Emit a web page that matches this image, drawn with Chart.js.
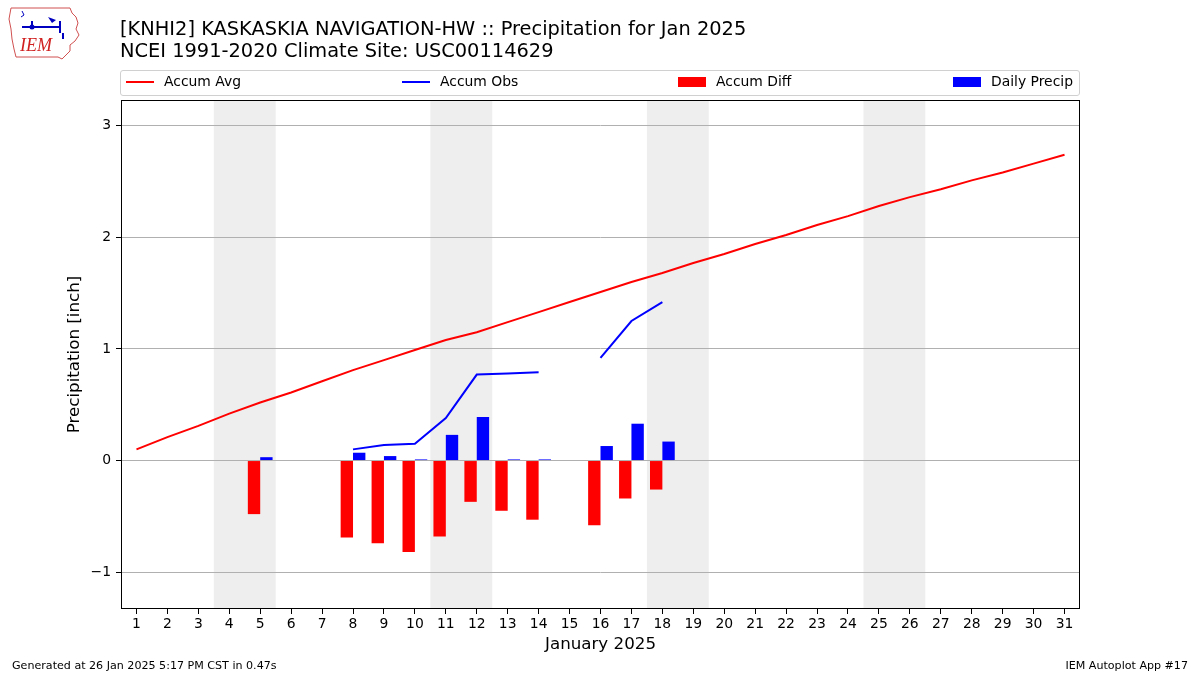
<!DOCTYPE html>
<html>
<head>
<meta charset="utf-8">
<script src="https://cdn.jsdelivr.net/npm/chart.js@4"></script>
<style>
  body { margin: 0; background: #fff; font-family: "DejaVu Sans", sans-serif; }
  #wrap { position: relative; width: 1200px; height: 675px; overflow: hidden; }
  #c { position: absolute; left: 0; top: 0; }
  .title { position: absolute; left: 120px; font-size: 19.4px; color: #000; white-space: nowrap; }
  .legend { position: absolute; left: 120px; top: 70px; width: 958px; height: 24px; border: 1px solid #d0d0d0; border-radius: 3px; }
  .item { position: absolute; top: 2px; font-size: 13.9px; line-height: 17px; white-space: nowrap; }
  .item i { display: inline-block; vertical-align: middle; margin-right: 10px; }
  .foot { position: absolute; top: 659px; font-size: 11.1px; color: #000; white-space: nowrap; }
  #logo { position: absolute; left: 8px; top: 5px; }
</style>
</head>
<body>
<div id="wrap">
  <canvas id="c" width="1200" height="675"></canvas>
  <svg id="logo" width="74" height="56" viewBox="0 0 74 56">
    <path d="M3 3 L62 3 L64 8 L68 12 L70 18 L68 24 L71 30 L67 36 L62 40 L62 46 L58 50 L54 54 L50 52 L8 52 L6 44 L4 34 L3 24 L1 14 Z" fill="none" stroke="#d05050" stroke-width="1"/>
    <path d="M14 22 L52 22 M24 16 L24 22 M52 16 L52 28 M55 28 L55 34" stroke="#0000c0" stroke-width="2" fill="none"/>
    <circle cx="24" cy="22" r="2.5" fill="#0000c0"/>
    <path d="M40 12 L48 15 L44 18 Z" fill="#0000c0"/>
    <path d="M14 6 L16 10 L13 12" stroke="#0000c0" stroke-width="1" fill="none"/>
    <text x="12" y="46" font-family="Liberation Serif, serif" font-style="italic" font-size="18" fill="#d02020">IEM</text>
  </svg>
  <div class="title" style="top:17px">[KNHI2] KASKASKIA NAVIGATION-HW :: Precipitation for Jan 2025</div>
  <div class="title" style="top:39px">NCEI 1991-2020 Climate Site: USC00114629</div>
  <div class="legend">
    <span class="item" style="left:5px"><i style="width:28px;height:2px;background:#ff0000"></i>Accum Avg</span>
    <span class="item" style="left:281px"><i style="width:28px;height:2px;background:#0000ff"></i>Accum Obs</span>
    <span class="item" style="left:557px"><i style="width:28px;height:10px;background:#ff0000"></i>Accum Diff</span>
    <span class="item" style="left:832px"><i style="width:28px;height:10px;background:#0000ff"></i>Daily Precip</span>
  </div>
  <div class="foot" style="left:12px">Generated at 26 Jan 2025 5:17 PM CST in 0.47s</div>
  <div class="foot" style="right:12px">IEM Autoplot App #17</div>
</div>
<script>
// dias de enero 2025
const days = [1,2,3,4,5,6,7,8,9,10,11,12,13,14,15,16,17,18,19,20,21,22,23,24,25,26,27,28,29,30,31];

// precipitacion acumulada promedio (clima 1991-2020)
const accumAvg = [0.10,0.21,0.31,0.42,0.52,0.61,0.71,0.81,0.90,0.99,1.08,1.15,1.24,1.33,1.42,1.51,
                  1.60,1.68,1.77,1.85,1.94,2.02,2.11,2.19,2.28,2.36,2.43,2.51,2.58,2.66,2.74];

// precipitacion acumulada observada
const accumObs = [null,null,null,null,0.03,null,null,0.10,0.14,0.15,0.38,0.77,0.78,0.79,null,0.92,
                  1.25,1.42,null,null,null,null,null,null,null,null,null,null,null,null,null];

// diferencia acumulada (obs - promedio)
const accumDiff = [null,null,null,null,-0.48,null,null,-0.69,-0.74,-0.82,-0.68,-0.37,-0.45,-0.53,null,-0.58,
                   -0.34,-0.26,null,null,null,null,null,null,null,null,null,null,null,null,null];

// precipitacion diaria
const dailyPrecip = [null,null,null,null,0.03,null,null,0.07,0.04,0.01,0.23,0.39,0.01,0.01,null,0.13,
                     0.33,0.17,null,null,null,null,null,null,null,null,null,null,null,null,null];

// primer dia de cada fin de semana
const weekendStarts = [4, 11, 18, 25];

const yTicks = [-1, 0, 1, 2, 3];

// sombreado de fines de semana
const weekendPlugin = {
    id: 'weekends',
    beforeDraw(chart) {
        const { ctx, chartArea, scales } = chart;
        ctx.save();
        ctx.fillStyle = '#eeeeee';
        weekendStarts.forEach(d => {
            const x0 = scales.x.getPixelForValue(d - 0.5);
            const x1 = scales.x.getPixelForValue(d + 1.5);
            ctx.fillRect(x0, chartArea.top, x1 - x0, chartArea.bottom - chartArea.top);
        });
        ctx.restore();
    }
};

// marco negro alrededor del area del grafico
const framePlugin = {
    id: 'frame',
    afterDraw(chart) {
        const { ctx, chartArea } = chart;
        ctx.save();
        ctx.strokeStyle = '#000';
        ctx.lineWidth = 1;
        ctx.strokeRect(Math.round(chartArea.left) + 0.5, Math.round(chartArea.top) + 0.5,
            Math.round(chartArea.right - chartArea.left) - 1, Math.round(chartArea.bottom - chartArea.top) - 1);
        ctx.restore();
    }
};

Chart.defaults.font.family = '"DejaVu Sans", sans-serif';
Chart.defaults.color = '#000';

const chart = new Chart(document.getElementById('c').getContext('2d'), {
    type: 'bar',
    data: {
        labels: days,
        datasets: [
            { type: 'line', label: 'Accum Avg', data: accumAvg, borderColor: '#ff0000', borderWidth: 2,
              pointRadius: 0, spanGaps: false, order: 1 },
            { type: 'line', label: 'Accum Obs', data: accumObs, borderColor: '#0000ff', borderWidth: 2,
              pointRadius: 0, spanGaps: false, order: 0 },
            { label: 'Accum Diff', data: accumDiff, backgroundColor: '#ff0000', order: 2 },
            { label: 'Daily Precip', data: dailyPrecip, backgroundColor: '#0000ff', order: 3 }
        ]
    },
    options: {
        responsive: false,
        animation: false,
        devicePixelRatio: 1,
        datasets: { bar: { categoryPercentage: 0.8, barPercentage: 1.0 } },
        layout: { padding: { left: 0, top: 100, right: 120, bottom: 16 } },
        plugins: { legend: { display: false }, tooltip: { enabled: false } },
        scales: {
            x: {
                type: 'linear',
                offset: false,
                min: 0.5,
                max: 31.5,
                afterBuildTicks: s => { s.ticks = days.map(v => ({ value: v })); },
                afterFit: s => { s.height = 50; },
                ticks: { font: { size: 13.9 }, padding: 2, maxRotation: 0, autoSkip: false },
                grid: { offset: false, drawOnChartArea: false, drawTicks: true, tickLength: 5, tickColor: '#000' },
                border: { display: false },
                title: { display: true, text: 'January 2025', font: { size: 16.7 }, padding: { top: 0, bottom: 4 } }
            },
            y: {
                min: -1.33,
                max: 3.23,
                afterBuildTicks: s => { s.ticks = yTicks.map(v => ({ value: v })); },
                afterFit: s => { s.width = 121; },
                ticks: { font: { size: 13.9 }, padding: 5, callback: v => String(v).replace('-', '\u2212') },
                grid: { color: '#b0b0b0', lineWidth: 1, drawTicks: true, tickLength: 5, tickColor: '#000' },
                border: { display: false },
                title: { display: true, text: 'Precipitation [inch]', font: { size: 16.7 }, padding: { top: 65 } }
            }
        }
    },
    plugins: [weekendPlugin, framePlugin]
});
</script>
</body>
</html>
